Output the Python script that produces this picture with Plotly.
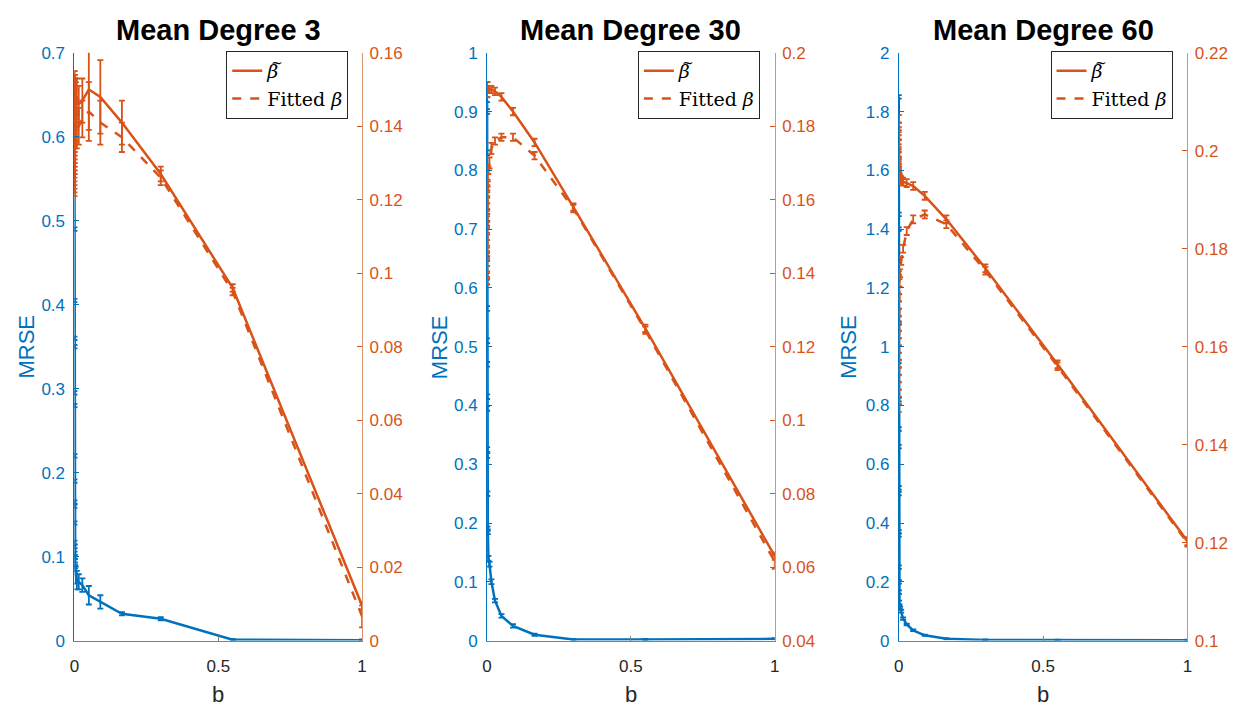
import plotly.graph_objects as go

# ---------------- data ----------------
b = [9.3e-8, 1.7e-7, 3.1e-7, 5.7e-7, 1.04e-6, 1.9e-6, 3.5e-6, 6.4e-6, 1.17e-5, 2.12e-5,
     3.85e-5, 7e-5, 1.27e-4, 2.3e-4, 4.2e-4, 7.6e-4, 1.38e-3, 2.5e-3, 4.6e-3, 8.3e-3,
     0.015, 0.0275, 0.05, 0.09, 0.165, 0.30, 0.55, 1.0]

titles = ["Mean Degree 3", "Mean Degree 30", "Mean Degree 60"]
legend_names = ["<i>\u03b2</i>", "Fitted <i>\u03b2</i>"]

# Mean degree 3
mrse_3 = [0.61, 0.49, 0.405, 0.36, 0.35, 0.295, 0.28, 0.22, 0.19, 0.165, 0.16, 0.14, 0.117, 0.112,
          0.104, 0.1, 0.095, 0.088, 0.078, 0.072, 0.07, 0.066, 0.054, 0.046, 0.032, 0.026, 0.001, 0.0005]
mrse_err_3 = [0.002] * 18 + [0.01, 0.011, 0.009, 0.008, 0.011, 0.008, 0.002, 0.002, 0.001, 0.001]
btil_3 = [0.147, 0.149, 0.146, 0.150, 0.148, 0.151, 0.147, 0.149, 0.150, 0.148, 0.146, 0.149, 0.151, 0.148,
          0.147, 0.150, 0.149, 0.148, 0.147, 0.148, 0.146, 0.147, 0.150, 0.148, 0.141, 0.127, 0.096, 0.0095]
btil_err_3 = [0.004] * 18 + [0.005, 0.005, 0.005, 0.006, 0.011, 0.010, 0.006, 0.002, 0.001, 0.001]
bfit_3 = [0.124, 0.125, 0.126, 0.127, 0.128, 0.129, 0.130, 0.131, 0.132, 0.133, 0.134, 0.135, 0.136, 0.137,
          0.138, 0.139, 0.140, 0.140, 0.141, 0.139, 0.140, 0.142, 0.144, 0.141, 0.137, 0.126, 0.095, 0.0066]
bfit_err_3 = [0.003] * 18 + [0.005, 0.005, 0.005, 0.005, 0.008, 0.006, 0.004, 0.002, 0.001, 0.003]

# Mean degree 30
mrse_30 = [0.92, 0.9, 0.83, 0.77, 0.73, 0.71, 0.65, 0.61, 0.565, 0.51, 0.47, 0.415, 0.395, 0.325,
           0.315, 0.25, 0.19, 0.185, 0.14, 0.13, 0.1, 0.068, 0.042, 0.025, 0.01, 0.002, 0.002, 0.003]
mrse_err_30 = [0.004] * 18 + [0.004, 0.004, 0.004, 0.003, 0.003, 0.003, 0.002, 0.001, 0.001, 0.001]
btil_30 = [0.189, 0.190, 0.191, 0.190, 0.189, 0.190, 0.191, 0.190, 0.189, 0.190, 0.191, 0.190, 0.190, 0.189,
           0.190, 0.191, 0.190, 0.190, 0.190, 0.190, 0.190, 0.1895, 0.188, 0.184, 0.1756, 0.158, 0.125, 0.063]
btil_err_30 = [0.001] * 18 + [0.001, 0.001, 0.001, 0.001, 0.001, 0.001, 0.001, 0.001, 0.001, 0.001]
bfit_30 = [0.138, 0.1395, 0.141, 0.143, 0.145, 0.1465, 0.148, 0.150, 0.1515, 0.153, 0.155, 0.1565, 0.158, 0.160,
           0.1615, 0.163, 0.1645, 0.166, 0.168, 0.170, 0.174, 0.176, 0.177, 0.177, 0.172, 0.1576, 0.1245, 0.0615]
bfit_err_30 = [0.001] * 18 + [0.001, 0.0015, 0.0015, 0.001, 0.001, 0.001, 0.001, 0.001, 0.001, 0.002]

# Mean degree 60
mrse_60 = [1.85, 1.45, 1.40, 1.25, 1.08, 0.95, 0.82, 0.72, 0.66, 0.52, 0.50, 0.37, 0.36, 0.25,
           0.2, 0.165, 0.13, 0.115, 0.11, 0.1, 0.075, 0.055, 0.035, 0.018, 0.006, 0.002, 0.001, 0.001]
mrse_err_60 = [0.006] * 18 + [0.005, 0.005, 0.004, 0.003, 0.003, 0.002, 0.002, 0.002, 0.002, 0.002]
btil_60 = [0.2065, 0.205, 0.204, 0.203, 0.2015, 0.2005, 0.1995, 0.199, 0.198, 0.1975, 0.197, 0.1965, 0.196, 0.1957,
           0.1953, 0.195, 0.1948, 0.1945, 0.1943, 0.194, 0.1937, 0.1934, 0.1928, 0.1908, 0.186, 0.176, 0.1564, 0.1203]
btil_err_60 = [0.0008] * 28
bfit_60 = [0.1475, 0.149, 0.1505, 0.152, 0.1535, 0.155, 0.1565, 0.158, 0.1595, 0.161, 0.1625, 0.164, 0.1655, 0.167,
           0.1685, 0.170, 0.1715, 0.173, 0.175, 0.1775, 0.180, 0.1836, 0.186, 0.187, 0.185, 0.1755, 0.156, 0.1200]
bfit_err_60 = [0.0008] * 28

mrse_all = [mrse_3, mrse_30, mrse_60]
mrse_err_all = [mrse_err_3, mrse_err_30, mrse_err_60]
btil_all = [btil_3, btil_30, btil_60]
btil_err_all = [btil_err_3, btil_err_30, btil_err_60]
bfit_all = [bfit_3, bfit_30, bfit_60]
bfit_err_all = [bfit_err_3, bfit_err_30, bfit_err_60]

left_ranges = [[0, 0.7], [0, 1], [0, 2]]
left_dticks = [0.1, 0.1, 0.2]
right_ranges = [[0, 0.16], [0.04, 0.2], [0.1, 0.22]]
right_dticks = [0.02, 0.02, 0.02]

# ---------------- style / layout ----------------
W, H = 1244, 709
BLUE = "#0072BD"
ORANGE = "#D95319"
FONT = "Liberation Sans, Arial, sans-serif"
SERIF = "DejaVu Serif, Liberation Serif, serif"

x_px = [(70, 360), (486, 776), (901, 1192)]
y_px = (45, 649)
ydom = [(H - y_px[1]) / H, (H - y_px[0]) / H]
legend_px = [(223, 43), (638, 43), (1054, 43)]
mrse_px = [22, 438, 851]

fig = go.Figure()
layout = dict(
    width=W, height=H,
    margin=dict(l=0, r=0, t=0, b=0),
    paper_bgcolor="white", plot_bgcolor="white",
    font=dict(family=FONT, size=17, color="#262626"),
    annotations=[],
)

for i in range(3):
    xa = "x" if i == 0 else f"x{i+1}"
    yl_n = 2 * i + 1
    yr_n = 2 * i + 2
    yl = "y" if yl_n == 1 else f"y{yl_n}"
    yr = f"y{yr_n}"
    leg = "legend" if i == 0 else f"legend{i+1}"

    fig.add_trace(go.Scatter(
        x=b, y=mrse_all[i], xaxis=xa, yaxis=yl, mode="lines",
        line=dict(color=BLUE, width=2.5), showlegend=False,
        error_y=dict(type="data", array=mrse_err_all[i], color=BLUE, thickness=1.8, width=3),
    ))
    fig.add_trace(go.Scatter(
        x=b, y=btil_all[i], xaxis=xa, yaxis=yr, mode="lines",
        line=dict(color=ORANGE, width=2.5), name=legend_names[0], legend=leg,
        error_y=dict(type="data", array=btil_err_all[i], color=ORANGE, thickness=1.8, width=3),
    ))
    fig.add_trace(go.Scatter(
        x=b, y=bfit_all[i], xaxis=xa, yaxis=yr, mode="lines",
        line=dict(color=ORANGE, width=2.5, dash="dash"), name=legend_names[1], legend=leg,
        error_y=dict(type="data", array=bfit_err_all[i], color=ORANGE, thickness=1.8, width=3),
    ))

    x0, x1 = x_px[i]
    xdom = [x0 / W, x1 / W]
    layout["xaxis" if i == 0 else f"xaxis{i+1}"] = dict(
        domain=xdom, range=[0, 1], tickvals=[0, 0.5, 1], ticktext=["0", "0.5", "1"],
        ticks="inside", ticklen=5, tickcolor="#808080", showline=True, linecolor="#808080",
        linewidth=1, showgrid=False, zeroline=False, anchor=yl, ticklabelstandoff=10,
        tickfont=dict(size=17, color="#262626", family=FONT),
    )
    layout["yaxis" if yl_n == 1 else f"yaxis{yl_n}"] = dict(
        domain=ydom, range=left_ranges[i], dtick=left_dticks[i], tick0=0,
        ticks="inside", ticklen=5, tickcolor=BLUE, showline=True, linecolor=BLUE, linewidth=1,
        showgrid=False, zeroline=False, anchor=xa, side="left", ticklabelstandoff=5,
        tickfont=dict(size=17, color=BLUE, family=FONT),
    )
    layout[f"yaxis{yr_n}"] = dict(
        domain=ydom, range=right_ranges[i], dtick=right_dticks[i], tick0=0,
        ticks="inside", ticklen=5, tickcolor=ORANGE, showline=True, linecolor="#D9956A", linewidth=1,
        showgrid=False, zeroline=False, anchor=xa, side="right", overlaying=yl, ticklabelstandoff=3,
        tickfont=dict(size=17, color=ORANGE, family=FONT),
    )
    lx, ly = legend_px[i]
    layout[leg] = dict(
        x=lx / W, y=(H - ly) / H, xref="paper", yref="paper", xanchor="left", yanchor="top",
        bgcolor="white", bordercolor="#262626", borderwidth=1,
        font=dict(family=SERIF, size=19, color="black"),
        itemwidth=30, tracegroupgap=0,
    )
    # tilde accent over the beta of the first legend entry
    layout["annotations"].append(dict(
        text="~", x=(lx + 51) / W, y=(H - 55) / H, xref="paper", yref="paper", height=8,
        showarrow=False, font=dict(size=14, color="black", family=SERIF), xanchor="center", yanchor="middle"))
    cx = (x0 + x1) / 2 / W
    layout["annotations"].append(dict(
        text=f"<b>{titles[i]}</b>", x=cx, y=(H - 22) / H, xref="paper", yref="paper",
        showarrow=False, font=dict(size=29, color="black", family=FONT), xanchor="center", yanchor="middle"))
    layout["annotations"].append(dict(
        text="b", x=cx, y=(H - 704) / H, xref="paper", yref="paper",
        showarrow=False, font=dict(size=22, color="#262626", family=FONT), xanchor="center", yanchor="middle"))
    layout["annotations"].append(dict(
        text="MRSE", x=mrse_px[i] / W, y=(H - 347) / H, xref="paper", yref="paper", textangle=-90,
        showarrow=False, font=dict(size=22, color=BLUE, family=FONT), xanchor="center", yanchor="middle"))

fig.update_layout(**layout)
fig.write_html("out.html", config={"displayModeBar": False},
               post_script="document.body.style.margin='0';document.body.style.overflow='hidden';")
